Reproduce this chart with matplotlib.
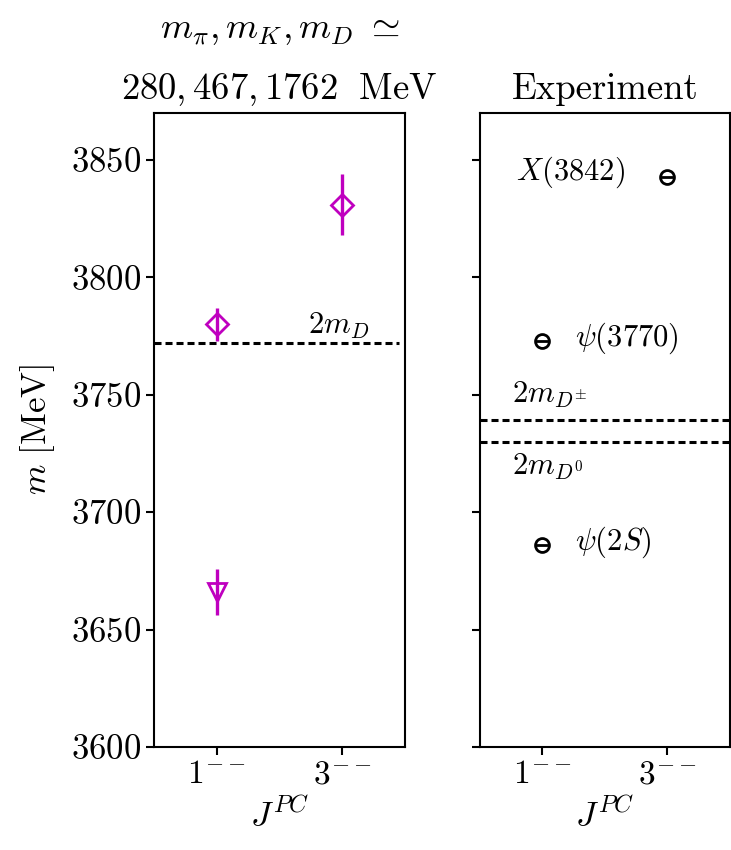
import matplotlib
matplotlib.use("Agg")
import matplotlib.pyplot as plt

plt.rcParams['font.family'] = 'serif'
plt.rcParams['font.serif'] = ['cmr10']
plt.rcParams['mathtext.fontset'] = 'cm'
plt.rcParams['axes.formatter.use_mathtext'] = True
plt.rcParams['font.size'] = 22

# lattice results (left panel)
lat_jpc = [1, 3]
lat_diamond_m = [3780, 3831]
lat_diamond_err = [7, 13]
lat_tri_jpc = [1]
lat_tri_m = [3666]
lat_tri_err = [10]
two_mD = 3772

# experiment (right panel)
exp_jpc = [1, 1, 3]
exp_m = [3686.1, 3773.1, 3842.7]
exp_names = [r'$\psi(2S)$', r'$\psi(3770)$', r'$X(3842)$']
two_mD_pm = 3739.3
two_mD_0 = 3729.7

xticks = [1, 3]
xticklabels = [r'$1^{--}$', r'$3^{--}$']

fig = plt.figure(figsize=(7.31, 8.5), dpi=100)
ax1 = fig.add_axes([0.2107, 0.1212, 0.3434, 0.7459])
ax2 = fig.add_axes([0.6566, 0.1212, 0.3420, 0.7459], sharey=ax1)

col = 'm'
ax1.errorbar(lat_jpc, lat_diamond_m, yerr=lat_diamond_err, fmt='D', ms=11.5,
             mfc='none', mec=col, mew=2, ecolor=col, elinewidth=2.4)
ax1.errorbar(lat_tri_jpc, lat_tri_m, yerr=lat_tri_err, fmt='v', ms=12.5,
             mfc='none', mec=col, mew=2, ecolor=col, elinewidth=2.4)
l1, = ax1.plot([0, 3.9], [two_mD, two_mD], color='k', lw=2.2)
l1.set_dashes((2.3, 1.3))
ax1.text(2.45, two_mD + 4, r'$2m_D$', fontsize=22)

ax2.plot(exp_jpc, exp_m, 'o', ms=10, mfc='none', mec='k', mew=2)
ax2.plot(exp_jpc, exp_m, '_', ms=9, mec='k', mew=2)
for x, y, name in zip(exp_jpc, exp_m, exp_names):
    if x == 3:
        ax2.text(x - 0.67, y + 2, name, ha='right', va='center', fontsize=22)
    else:
        ax2.text(x + 0.52, y + 1, name, ha='left', va='center', fontsize=22)
for yv in [two_mD_pm, two_mD_0]:
    ln, = ax2.plot([0, 4], [yv, yv], color='k', lw=2.2)
    ln.set_dashes((2.3, 1.3))
ax2.text(0.52, two_mD_pm + 4, r'$2m_{D^{\pm}}$', fontsize=22, va='bottom')
ax2.text(0.52, two_mD_0 - 4, r'$2m_{D^{0}}$', fontsize=22, va='top')

for ax in (ax1, ax2):
    ax.set_xlim(0, 4)
    ax.set_xticks(xticks)
    ax.set_xticklabels(xticklabels)
    ax.set_xlabel(r'$J^{PC}$', labelpad=6, fontsize=25)
    ax.tick_params(width=1.5, length=6, labelsize=24)
    ax.tick_params(axis='y', labelsize=25)
    for s in ax.spines.values():
        s.set_linewidth(1.5)

ax1.set_ylim(3600, 3870)
ax1.set_yticks([3600, 3650, 3700, 3750, 3800, 3850])
ax1.set_ylabel(r'$m\ [\mathrm{MeV}]$', fontsize=25, labelpad=10)
plt.setp(ax2.get_yticklabels(), visible=False)

ax1.set_title(r'$m_\pi, m_K, m_D\ \simeq$' + '\n' + r'$280, 467, 1762\ \ \mathrm{MeV}$',
              linespacing=1.85, pad=10)
ax2.set_title('Experiment', pad=10)

fig.savefig('out.png', dpi=100)
